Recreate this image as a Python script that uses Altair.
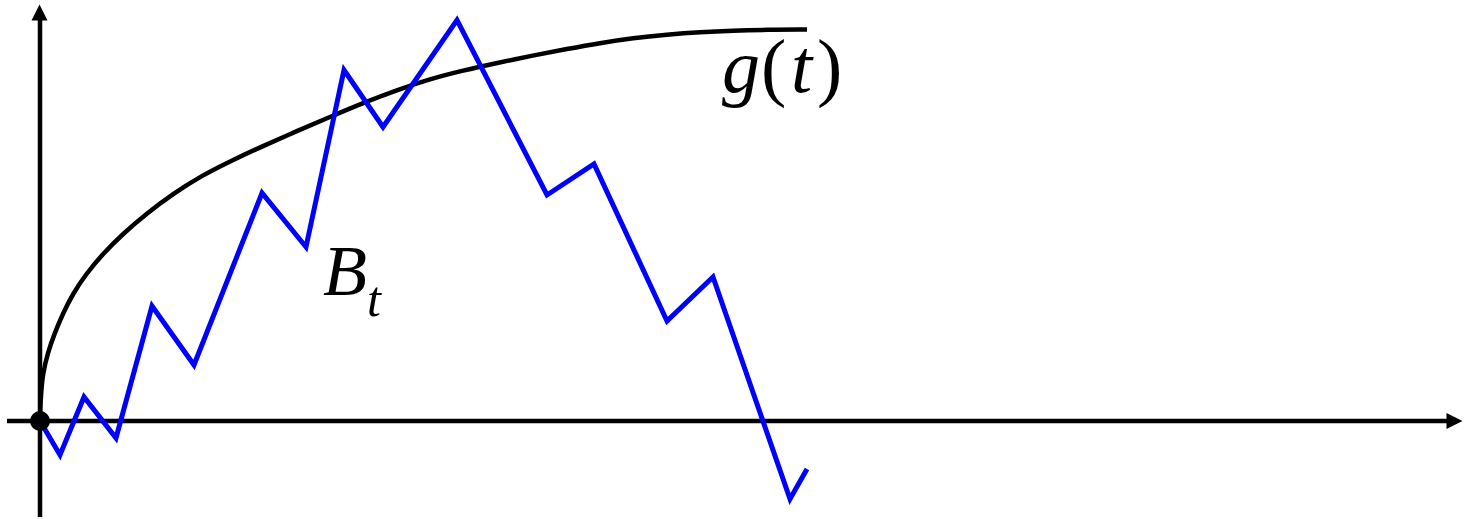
import altair as alt
import pandas as pd

# Sample path B_t: corner points (time, value)
path_t = [0, 20, 44, 76, 112, 154, 222, 266, 304, 343, 417, 507, 554, 627, 673, 750, 767]
path_b = [0, -34, 24, -17, 115, 56, 228, 174, 351, 294, 401, 226, 257, 100, 144, -78, -48]

# Boundary curve g(t)
curve_t = [0, 0.3, 1, 2.7, 7.7, 14.3, 22.7, 32.7, 46, 62.7, 82.7, 106, 132.7, 162.7,
           192.7, 223, 257, 290, 323, 357, 390, 423, 457, 493, 527, 560, 593, 627,
           660, 693, 727, 767]
curve_g = [0, 14, 26, 47, 68, 87, 107, 127, 147, 167, 187, 207, 227, 246,
           261, 275, 290, 304, 318, 331, 342, 350.5, 358, 365.5, 372, 378, 383, 386.5,
           389, 390.5, 391.2, 391.5]

W, H = 1464, 519
X = alt.Scale(domain=[-40, 1424], nice=False, zero=False)
Y = alt.Scale(domain=[-98, 421], nice=False, zero=False)
SERIF = "Liberation Serif, Tinos, Times New Roman, Times, DejaVu Serif, serif"

path_df = pd.DataFrame({"t": path_t, "b": path_b, "i": range(len(path_t))})
curve_df = pd.DataFrame({"t": curve_t, "g": curve_g})

axes_df = pd.DataFrame({
    "x": [-33, 0], "x2": [1408, 0],
    "y": [0, -96], "y2": [0, 401],
})
arrows_df = pd.DataFrame({
    "x": [-0.5, 1414.5], "y": [408.5, 0],
    "shape": ["M0,-1L1,1L-1,1Z", "M1,0L-1,-1L-1,1Z"],
})
origin_df = pd.DataFrame({"x": [0], "y": [0]})

italic_df = pd.DataFrame({
    "text": ["B", "t", "g", "t"],
    "x": [283, 327, 682, 751],
    "y": [126, 105, 329, 329],
    "fs": [72, 50, 76, 76],
})
upright_df = pd.DataFrame({
    "text": ["(", ")"],
    "x": [721, 777],
    "y": [329, 329],
    "fs": [76, 76],
})

axes = alt.Chart(axes_df).mark_rule(color="black", strokeWidth=4.5).encode(
    x=alt.X("x:Q", scale=X, axis=None), x2="x2:Q",
    y=alt.Y("y:Q", scale=Y, axis=None), y2="y2:Q",
)

arrows = alt.Chart(arrows_df).mark_point(
    filled=True, color="black", opacity=1, size=256, strokeWidth=0
).encode(
    x=alt.X("x:Q", scale=X, axis=None),
    y=alt.Y("y:Q", scale=Y, axis=None),
    shape=alt.Shape("shape:N", scale=None, legend=None),
)

curve = alt.Chart(curve_df).mark_line(
    color="black", strokeWidth=4.5, interpolate="basis"
).encode(
    x=alt.X("t:Q", scale=X, axis=None),
    y=alt.Y("g:Q", scale=Y, axis=None),
)

path = alt.Chart(path_df).mark_line(
    color="#0000ff", strokeWidth=5, strokeJoin="miter"
).encode(
    x=alt.X("t:Q", scale=X, axis=None),
    y=alt.Y("b:Q", scale=Y, axis=None),
    order="i:Q",
)

origin = alt.Chart(origin_df).mark_circle(color="black", opacity=1, size=400).encode(
    x=alt.X("x:Q", scale=X, axis=None),
    y=alt.Y("y:Q", scale=Y, axis=None),
)

italic = alt.Chart(italic_df).mark_text(
    font=SERIF, fontStyle="italic", align="left",
    baseline="alphabetic", color="black",
).encode(
    x=alt.X("x:Q", scale=X, axis=None),
    y=alt.Y("y:Q", scale=Y, axis=None),
    text="text:N",
    size=alt.Size("fs:Q", scale=None, legend=None),
)

upright = alt.Chart(upright_df).mark_text(
    font=SERIF, align="left", baseline="alphabetic", color="black",
).encode(
    x=alt.X("x:Q", scale=X, axis=None),
    y=alt.Y("y:Q", scale=Y, axis=None),
    text="text:N",
    size=alt.Size("fs:Q", scale=None, legend=None),
)

chart = alt.layer(axes, curve, path, origin, arrows, italic, upright).properties(
    width=W, height=H, padding=0, autosize=alt.AutoSizeParams(type="none"),
    background="white",
).configure_view(stroke=None)

chart.save("out.html", embed_options={"renderer": "svg", "actions": False})
